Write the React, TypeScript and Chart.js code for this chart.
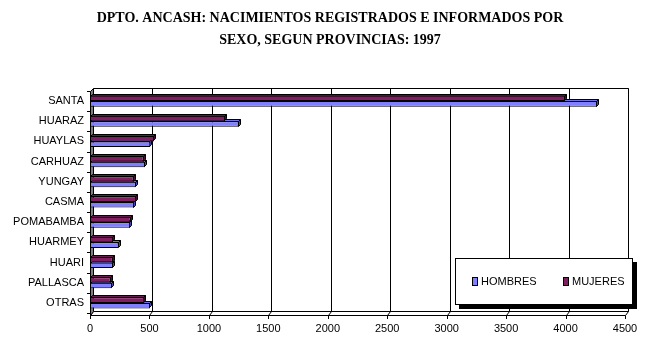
import React, { useEffect, useRef } from "react";
import { Chart, registerables } from "chart.js";

Chart.register(...registerables);

const titleLines = [
  "DPTO. ANCASH: NACIMIENTOS REGISTRADOS E INFORMADOS POR",
  "SEXO, SEGUN PROVINCIAS: 1997",
];
const provincias = [
  "SANTA",
  "HUARAZ",
  "HUAYLAS",
  "CARHUAZ",
  "YUNGAY",
  "CASMA",
  "POMABAMBA",
  "HUARMEY",
  "HUARI",
  "PALLASCA",
  "OTRAS",
];
const hombres = [4265, 1250, 508, 463, 385, 371, 338, 240, 192, 184, 505];
const mujeres = [3995, 1137, 539, 450, 366, 388, 341, 195, 192, 173, 458];
const xMin = 0;
const xMax = 4500;
const xStep = 500;

const FONT = "'Liberation Sans', Arial, sans-serif";

const colors: Record<string, { front: string; top: string; side: string }> = {
  HOMBRES: { front: "#8080ff", top: "#7070e8", side: "#4848a8" },
  MUJERES: { front: "#7f1f5f", top: "#6a1850", side: "#45102f" },
};

const wallsPlugin = {
  id: "walls3d",
  beforeDatasetsDraw(chart: any) {
    const { ctx, chartArea } = chart;
    const { left: L, right: R, top: T, bottom: B } = chartArea;
    const xs = chart.scales.x;
    const ys = chart.scales.y;
    const dx = 3;
    const FB = B + 2; // front bottom
    const BB = FB - 4; // back bottom
    const BT = T - 3; // back top
    ctx.save();
    ctx.lineWidth = 1;
    ctx.strokeStyle = "#000";
    ctx.beginPath();
    ctx.moveTo(Math.round(L + dx) + 0.5, Math.round(BT) + 0.5);
    ctx.lineTo(Math.round(R + dx) + 0.5, Math.round(BT) + 0.5);
    ctx.lineTo(Math.round(R + dx) + 0.5, Math.round(BB) + 0.5);
    ctx.stroke();
    const ticks = xs.ticks;
    ticks.forEach((t: any) => {
      const px = Math.round(xs.getPixelForValue(t.value));
      if (t.value !== xMin) {
        ctx.beginPath();
        ctx.moveTo(px + dx + 0.5, Math.round(BT) + 0.5);
        ctx.lineTo(px + dx + 0.5, Math.round(BB) + 0.5);
        ctx.stroke();
      }
      ctx.beginPath();
      ctx.moveTo(px + 0.5, Math.round(FB) + 0.5);
      ctx.lineTo(px + dx + 0.5, Math.round(BB) + 0.5);
      ctx.stroke();
      ctx.beginPath();
      ctx.moveTo(px + 0.5, Math.round(FB) + 0.5);
      ctx.lineTo(px + 0.5, Math.round(FB) + 4);
      ctx.stroke();
    });
    ctx.beginPath();
    ctx.moveTo(Math.round(L) + 0.5, Math.round(FB) + 0.5);
    ctx.lineTo(Math.round(R) + 0.5, Math.round(FB) + 0.5);
    ctx.moveTo(Math.round(L + dx) + 0.5, Math.round(BB) + 0.5);
    ctx.lineTo(Math.round(R + dx) + 0.5, Math.round(BB) + 0.5);
    ctx.stroke();
    ctx.fillStyle = "#808080";
    ctx.beginPath();
    ctx.moveTo(Math.round(L) + 0.5, Math.round(T) + 0.5);
    ctx.lineTo(Math.round(L + dx) + 0.5, Math.round(BT) + 0.5);
    ctx.lineTo(Math.round(L + dx) + 0.5, Math.round(BB) + 0.5);
    ctx.lineTo(Math.round(L) + 0.5, Math.round(FB) + 0.5);
    ctx.closePath();
    ctx.fill();
    ctx.stroke();
    const n = ys.ticks.length;
    const band = (B - T) / n;
    for (let i = 0; i <= n; i++) {
      const y = Math.round(T + i * band) + 0.5;
      ctx.beginPath();
      ctx.moveTo(Math.round(L) - 3, y);
      ctx.lineTo(Math.round(L) + 0.5, y);
      ctx.stroke();
    }
    ctx.restore();
  },
  beforeDatasetDraw(chart: any, args: any) {
    const { ctx } = chart;
    const ds = chart.data.datasets[args.index];
    const c = colors[ds.label];
    const D = 2;
    ctx.save();
    ctx.lineWidth = 1;
    ctx.strokeStyle = "#000";
    args.meta.data.forEach((bar: any) => {
      const { x, y, base, height } = bar.getProps(["x", "y", "base", "height"], true);
      const t = Math.round(y - height / 2) + 0.5;
      const b = Math.round(y + height / 2) - 0.5;
      const xl = Math.round(base) + 0.5;
      const xr = Math.round(x) - 0.5;
      ctx.fillStyle = c.top;
      ctx.beginPath();
      ctx.moveTo(xl, t);
      ctx.lineTo(xl + D, t - D);
      ctx.lineTo(xr + D, t - D);
      ctx.lineTo(xr, t);
      ctx.closePath();
      ctx.fill();
      ctx.stroke();
      ctx.fillStyle = c.side;
      ctx.beginPath();
      ctx.moveTo(xr, t);
      ctx.lineTo(xr + D, t - D);
      ctx.lineTo(xr + D, b - D);
      ctx.lineTo(xr, b);
      ctx.closePath();
      ctx.fill();
      ctx.stroke();
    });
    ctx.restore();
  },
};

const legendPlugin = {
  id: "boxLegend",
  afterDraw(chart: any) {
    const { ctx, chartArea } = chart;
    const bl = Math.round(chartArea.right - 170);
    const br = Math.round(chartArea.right + 8);
    const bt = Math.round(chartArea.bottom - 55);
    const bb = Math.round(chartArea.bottom - 8);
    ctx.save();
    ctx.fillStyle = "#000";
    ctx.fillRect(bl + 4, bt + 4, br - bl, bb - bt);
    ctx.fillStyle = "#fff";
    ctx.fillRect(bl, bt, br - bl, bb - bt);
    ctx.strokeStyle = "#000";
    ctx.lineWidth = 1;
    ctx.strokeRect(bl + 0.5, bt + 0.5, br - bl - 1, bb - bt - 1);
    const cy = Math.round((bt + bb) / 2) - 1;
    const items = [...chart.data.datasets].reverse();
    const offsets = [17, 108];
    ctx.font = `11px ${FONT}`;
    ctx.textBaseline = "middle";
    ctx.textAlign = "left";
    items.forEach((ds: any, i: number) => {
      const sx = bl + offsets[i];
      ctx.fillStyle = colors[ds.label].front;
      ctx.fillRect(sx, cy - 4, 5, 8);
      ctx.strokeRect(sx + 0.5, cy - 3.5, 5, 8);
      ctx.fillStyle = "#000";
      ctx.fillText(ds.label, sx + 9, cy + 1);
    });
    ctx.restore();
  },
};

export default function App() {
  const ref = useRef<HTMLCanvasElement | null>(null);
  useEffect(() => {
    document.body.style.margin = "0";
    const canvas = ref.current;
    if (!canvas) return;
    const chart = new Chart(canvas, {
      type: "bar",
      data: {
        labels: provincias,
        datasets: [
          {
            label: "MUJERES",
            data: mujeres,
            backgroundColor: colors.MUJERES.front,
            borderColor: "#000",
            borderWidth: 1,
            borderSkipped: false,
          },
          {
            label: "HOMBRES",
            data: hombres,
            backgroundColor: colors.HOMBRES.front,
            borderColor: "#000",
            borderWidth: 1,
            borderSkipped: false,
          },
        ],
      },
      options: {
        indexAxis: "y",
        responsive: false,
        animation: false,
        devicePixelRatio: 1,
        layout: { padding: { left: 9, right: 0, top: 0, bottom: 0 } },
        datasets: {
          bar: { categoryPercentage: 0.55, barPercentage: 1 },
        },
        plugins: {
          legend: { display: false },
          tooltip: { enabled: false },
          title: {
            display: true,
            text: titleLines,
            color: "#000",
            font: { family: "'Liberation Serif', 'Times New Roman', serif", size: 14, weight: "bold", lineHeight: 22 / 14 },
            padding: { top: 7, bottom: 40 },
          },
        },
        scales: {
          x: {
            min: xMin,
            max: xMax,
            grid: { display: false, drawTicks: false },
            border: { display: false },
            ticks: {
              stepSize: xStep,
              color: "#000",
              padding: 9,
              font: { family: FONT, size: 11 },
              maxRotation: 0,
              callback: (v: any) => String(v),
            },
            afterFit: (s: any) => {
              s.height = 35;
            },
          },
          y: {
            grid: { display: false, drawTicks: false },
            border: { display: false },
            ticks: {
              color: "#000",
              padding: 6,
              font: { family: FONT, size: 11 },
              autoSkip: false,
            },
            afterFit: (s: any) => {
              s.width = 81;
            },
          },
          yRight: {
            type: "linear",
            axis: "y",
            position: "right",
            display: true,
            grid: { display: false, drawTicks: false },
            border: { display: false },
            ticks: { display: false },
            afterFit: (s: any) => {
              s.width = 26;
            },
          },
        },
      },
      plugins: [wallsPlugin, legendPlugin],
    });
    return () => chart.destroy();
  }, []);
  return (
    <div style={{ width: 651, height: 348, background: "#fff" }}>
      <canvas ref={ref} width={651} height={348} />
    </div>
  );
}
